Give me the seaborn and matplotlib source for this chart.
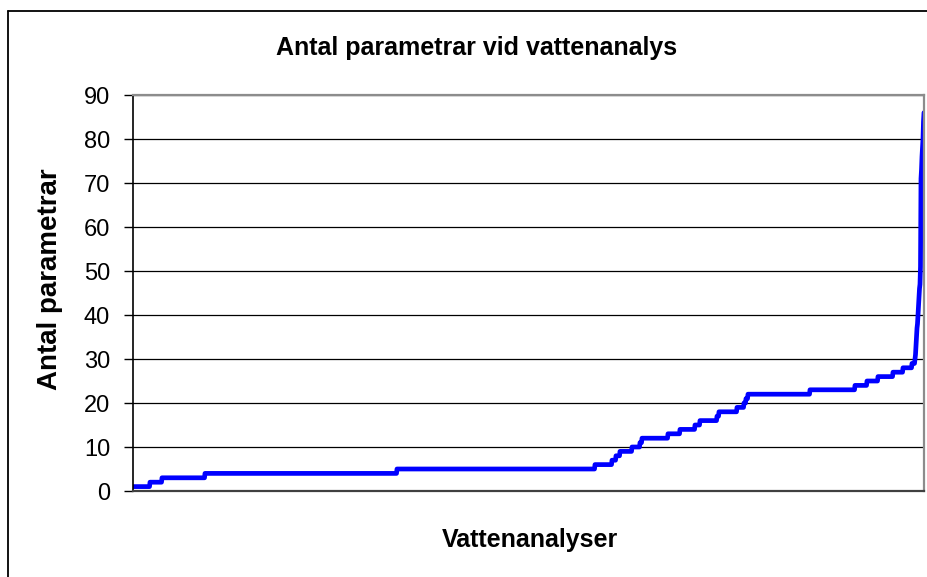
import numpy as np
import pandas as pd
import matplotlib.pyplot as plt
import seaborn as sns
from matplotlib.lines import Line2D

# sorted number of parameters per water analysis, as run lengths
levels = [1, 2, 3, 4, 5, 6, 7, 8, 9, 10, 11, 12, 13, 14, 15, 16, 17, 18, 19, 20,
          21, 22, 23, 24, 25, 26, 27, 28, 29]
counts = [34, 24, 86, 384, 396, 34, 8, 8, 24, 16, 4, 52, 24, 30, 10, 34, 4, 36, 14, 4,
          4, 124, 90, 24, 22, 30, 20, 18, 6]
tail = [30, 31, 33, 35, 37, 38, 40, 42, 44, 46, 47, 51, 71, 73, 76, 78, 80, 84, 86]

values = np.concatenate([np.repeat(levels, counts), tail])
df = pd.DataFrame({"analys": np.arange(len(values)), "antal": values})

y_ticks = [0, 10, 20, 30, 40, 50, 60, 70, 80, 90]

sns.set_style("white")
plt.rcParams["font.family"] = ["Liberation Sans", "DejaVu Sans"]
plt.rcParams["text.color"] = "black"
plt.rcParams["ytick.color"] = "black"
plt.rcParams["ytick.labelcolor"] = "black"

fig = plt.figure(figsize=(9.28, 5.77), dpi=100)
ax = fig.add_axes([133 / 928, 1 - 491 / 577, 791 / 928, 396 / 577])

sns.lineplot(data=df, x="analys", y="antal", color="#0000FF", linewidth=3.4, ax=ax)

ax.set_xlim(0, len(values) - 1)
ax.set_ylim(0, 90)
ax.set_yticks(y_ticks)
ax.set_xticks([])
ax.grid(axis="y", color="black", linewidth=0.9)
ax.tick_params(axis="y", labelsize=17, length=6.5, width=1, pad=10, direction="out",
               left=True, colors="black")
ax.set_xlabel("")
ax.set_ylabel("")

for side in ["top", "right"]:
    ax.spines[side].set_color("#8c8c8c")
    ax.spines[side].set_linewidth(1.6)
ax.spines["left"].set_color("black")
ax.spines["left"].set_linewidth(1.2)
ax.spines["bottom"].set_color("#404040")
ax.spines["bottom"].set_linewidth(1.6)

fig.text(0.514, 1 - 48 / 577, "Antal parametrar vid vattenanalys", ha="center", va="center",
         fontsize=18, fontweight="bold")
fig.text(0.054, 1 - 279 / 577, "Antal parametrar", ha="center", va="center",
         rotation=90, fontsize=20, fontweight="bold")
fig.text(530 / 928, 1 - 540 / 577, "Vattenanalyser", ha="center", va="center",
         fontsize=18, fontweight="bold")

# outer chart border (left and top edges visible)
fig.add_artist(Line2D([7.5 / 928, 7.5 / 928], [0, 1 - 11 / 577], color="black", linewidth=1.3))
fig.add_artist(Line2D([7.5 / 928, 1], [1 - 11 / 577, 1 - 11 / 577], color="black", linewidth=1.3))

fig.savefig("out.png", dpi=100)
